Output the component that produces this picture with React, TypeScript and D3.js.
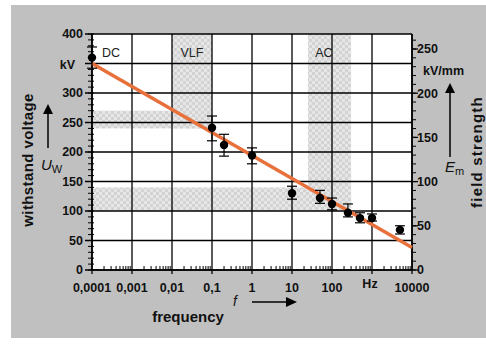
import React from "react";
import * as d3 from "d3";

// measured points: frequency (Hz), withstand voltage (kV), error bar ends
const freqs = [0.0001, 0.1, 0.2, 1, 10, 50, 100, 250, 500, 1000, 5000];
const voltages = [360, 241, 212, 194, 130, 122, 112, 97, 88, 88, 68];
const errLow = [342, 219, 193, 180, 120, 113, 102, 90, 80, 83, 61];
const errHigh = [378, 261, 230, 207, 142, 135, 122, 112, 97, 95, 75];

// fitted trend line (end points)
const trendFreq = [0.0001, 10000];
const trendKV = [350, 38];

// shaded ranges: [f from, f to, kV from, kV to]
const bandF0 = [0.0001, 0.01, 0.0001, 25];
const bandF1 = [0.1, 0.1, 300, 300];
const bandV0 = [240, 240, 100, 100];
const bandV1 = [270, 400, 140, 400];

const xTicks = [0.0001, 0.001, 0.01, 0.1, 1, 10, 100, 1000, 10000];
const xTickLabels = ["0,0001", "0,001", "0,01", "0,1", "1", "10", "100", "Hz", "10000"];
const yTicks = [0, 50, 100, 150, 200, 250, 300, 350, 400];
const yTickLabels = ["0", "50", "100", "150", "200", "250", "300", "kV", "400"];
const y2Ticks = [0, 50, 100, 150, 200, 250];

const regionNames = ["DC", "VLF", "AC"];
const regionFreq = [0.0001, 0.0316, 63];

const W = 486;
const H = 345;
const left = 92, right = 412, top = 34, bottom = 270;
const FONT = "'Liberation Sans', Arial, Helvetica, sans-serif";

export default function App() {
  const x = d3.scaleLog().domain([0.0001, 10000]).range([left, right]);
  const y = d3.scaleLinear().domain([0, 400]).range([bottom, top]);
  const y2 = d3.scaleLinear().domain([0, 250]).range([bottom, 49]);

  const minorX: number[] = [];
  for (let e = -4; e < 4; e++) {
    for (let m = 2; m <= 9; m++) minorX.push(m * Math.pow(10, e));
  }
  const minorY = d3.range(0, 401, 10);
  const minorY2 = d3.range(0, 261, 10);

  const trend = d3
    .line<number>()
    .x((d, i) => x(trendFreq[i]))
    .y((d) => y(d));

  return (
    <svg
      width={W}
      height={H}
      style={{ position: "absolute", left: 0, top: 0, background: "#fff" }}
      fontFamily={FONT}
    >
      <defs>
        <pattern id="chk" width="6" height="6" patternUnits="userSpaceOnUse">
          <rect width="6" height="6" fill="#e6e6e6" />
          <rect width="3" height="3" fill="#d3d3d3" />
          <rect x="3" y="3" width="3" height="3" fill="#d3d3d3" />
        </pattern>
      </defs>
      <rect x={11} y={5} width={475} height={333} fill="#c0c0c0" />
      <rect x={left} y={top} width={right - left} height={bottom - top} fill="#fff" />

      {bandF0.map((f, i) => (
        <rect
          key={"b" + i}
          x={x(f)}
          y={y(bandV1[i])}
          width={x(bandF1[i]) - x(f)}
          height={y(bandV0[i]) - y(bandV1[i])}
          fill="url(#chk)"
        />
      ))}

      {/* grid */}
      {xTicks.map((t) => (
        <line key={"gx" + t} x1={x(t)} x2={x(t)} y1={top} y2={bottom + 4} stroke="#000" strokeWidth={1.3} />
      ))}
      {yTicks.map((t) => (
        <line key={"gy" + t} x1={left - 7} x2={right} y1={y(t)} y2={y(t)} stroke="#000" strokeWidth={1.3} />
      ))}
      <line x1={left} x2={left} y1={top} y2={bottom} stroke="#000" strokeWidth={1.6} />
      <line x1={right} x2={right} y1={top} y2={bottom} stroke="#000" strokeWidth={1.6} />
      <line x1={left} x2={right} y1={bottom} y2={bottom} stroke="#000" strokeWidth={1.6} />

      {minorX.map((t) => (
        <line key={"mx" + t} x1={x(t)} x2={x(t)} y1={bottom} y2={bottom - 4} stroke="#000" strokeWidth={1} />
      ))}
      {minorY.map((t) => (
        <line key={"my" + t} x1={left - 4} x2={left + 2} y1={y(t)} y2={y(t)} stroke="#000" strokeWidth={1} />
      ))}
      {minorY2.map((t) => (
        <line key={"my2" + t} x1={right} x2={right + 4} y1={y2(t)} y2={y2(t)} stroke="#000" strokeWidth={1} />
      ))}
      {y2Ticks.map((t) => (
        <line key={"t2" + t} x1={right} x2={right + 6} y1={y2(t)} y2={y2(t)} stroke="#000" strokeWidth={1.3} />
      ))}

      {/* tick labels */}
      <g fontSize={12.5} fontWeight="bold" fill="#111">
        {xTicks.map((t, i) => (
          <text
            key={"xl" + t}
            x={x(t) + (xTickLabels[i] === "Hz" ? -2 : 0)}
            y={xTickLabels[i] === "Hz" ? 288 : 292}
            textAnchor="middle"
          >
            {xTickLabels[i]}
          </text>
        ))}
        {yTicks.map((t, i) => (
          <text
            key={"yl" + t}
            x={yTickLabels[i] === "kV" ? 75 : 83}
            y={yTickLabels[i] === "kV" ? 69 : y(t)}
            dy={yTickLabels[i] === "kV" ? 0 : "0.35em"}
            textAnchor="end"
          >
            {yTickLabels[i]}
          </text>
        ))}
        {y2Ticks.map((t) => (
          <text key={"y2l" + t} x={right + 5} y={y2(t)} dy="0.35em">
            {t}
          </text>
        ))}
        <text x={423} y={75}>kV/mm</text>
      </g>

      {/* region labels */}
      <g fontSize={12.5} fill="#222">
        {regionNames.map((n, i) => (
          <text
            key={n}
            x={i === 0 ? x(regionFreq[i]) + 10 : x(regionFreq[i])}
            y={57}
            textAnchor={i === 0 ? "start" : "middle"}
          >
            {n}
          </text>
        ))}
      </g>

      {/* trend line */}
      <path d={trend(trendKV) || ""} fill="none" stroke="#e8703a" strokeWidth={3.5} />

      {/* data with error bars */}
      {freqs.map((f, i) => (
        <g key={"p" + i} stroke="#000" strokeWidth={1.2}>
          <line x1={x(f)} x2={x(f)} y1={y(errLow[i])} y2={y(errHigh[i])} />
          <line x1={x(f) - 5} x2={x(f) + 5} y1={y(errLow[i])} y2={y(errLow[i])} />
          <line x1={x(f) - 5} x2={x(f) + 5} y1={y(errHigh[i])} y2={y(errHigh[i])} />
          <circle cx={x(f)} cy={y(voltages[i])} r={4.2} fill="#000" stroke="none" />
        </g>
      ))}

      {/* axis titles */}
      <text
        transform="translate(33,160) rotate(-90)"
        textAnchor="middle"
        fontSize={15}
        fontWeight="bold"
        letterSpacing={0.4}
        fill="#111"
      >
        withstand voltage
      </text>
      <line x1={48} x2={48} y1={148} y2={112} stroke="#000" strokeWidth={1.5} />
      <path d="M43,114 L53,114 L48,104 Z" fill="#000" />
      <text x={41} y={170} fontSize={15} fontStyle="italic" fill="#111">
        U
        <tspan fontSize={11} fontStyle="normal" dy={3}>W</tspan>
      </text>

      <text
        transform="translate(482,152) rotate(-90)"
        textAnchor="middle"
        fontSize={15}
        fontWeight="bold"
        letterSpacing={1.2}
        fill="#111"
      >
        field strength
      </text>
      <line x1={450} x2={450} y1={157} y2={91} stroke="#000" strokeWidth={1.5} />
      <path d="M445,93 L455,93 L450,83 Z" fill="#000" />
      <text x={445} y={172} fontSize={15} fontStyle="italic" fill="#111">
        E
        <tspan fontSize={11} fontStyle="normal" dy={3}>m</tspan>
      </text>

      <text x={235} y={306} textAnchor="middle" fontSize={14} fontStyle="italic" fill="#111">
        f
      </text>
      <line x1={252} x2={288} y1={302} y2={302} stroke="#000" strokeWidth={1.5} />
      <path d="M286,297 L286,307 L297,302 Z" fill="#000" />
      <text x={188} y={322} textAnchor="middle" fontSize={15} fontWeight="bold" fill="#111">
        frequency
      </text>
    </svg>
  );
}
